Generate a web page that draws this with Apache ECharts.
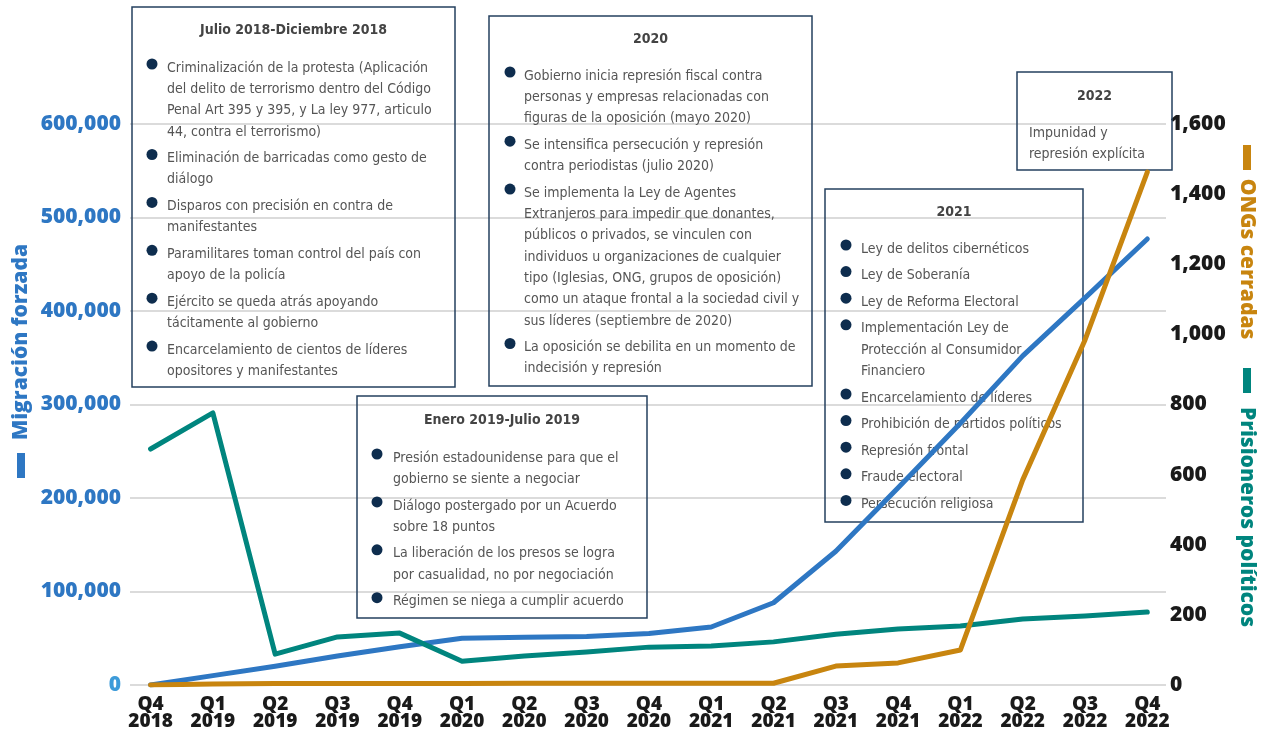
<!DOCTYPE html>
<html>
<head>
<meta charset="UTF-8">
<title>Migración forzada, ONGs cerradas y prisioneros políticos</title>
<script src="https://cdn.jsdelivr.net/npm/echarts@6/dist/echarts.min.js"></script>
<style>
  html, body { margin: 0; padding: 0; background: #fff; }
  #main { width: 1262px; height: 732px; }
</style>
</head>
<body>
<div id="main"></div>
<script type="text/javascript">
// categorias (trimestres)
var quarters = ['Q4\n2018', 'Q1\n2019', 'Q2\n2019', 'Q3\n2019', 'Q4\n2019', 'Q1\n2020', 'Q2\n2020', 'Q3\n2020', 'Q4\n2020',
                'Q1\n2021', 'Q2\n2021', 'Q3\n2021', 'Q4\n2021', 'Q1\n2022', 'Q2\n2022', 'Q3\n2022', 'Q4\n2022'];
// series
var migracion = [0, 10000, 20000, 31000, 41000, 50000, 51000, 52000, 55000, 62000, 88000, 143000, 211000, 280000, 352000, 414000, 477000];
var presos = [673, 776, 88, 137, 148, 68, 83, 94, 108, 111, 123, 145, 160, 168, 188, 197, 208];
var ongs = [0, 3, 4, 4, 4, 4, 5, 5, 5, 5, 5, 54, 63, 100, 585, 984, 1463];

// textos de los recuadros
var box1Title = 'Julio 2018-Diciembre 2018';
var box1Items = [
  'Criminalización de la protesta (Aplicación\ndel delito de terrorismo dentro del Código\nPenal Art 395 y 395, y La ley 977, articulo\n44, contra el terrorismo)',
  'Eliminación de barricadas como gesto de\ndiálogo',
  'Disparos con precisión en contra de\nmanifestantes',
  'Paramilitares toman control del país con\napoyo de la policía',
  'Ejército se queda atrás apoyando\ntácitamente al gobierno',
  'Encarcelamiento de cientos de líderes\nopositores y manifestantes'
];
var box2Title = 'Enero 2019-Julio 2019';
var box2Items = [
  'Presión estadounidense para que el\ngobierno se siente a negociar',
  'Diálogo postergado por un Acuerdo\nsobre 18 puntos',
  'La liberación de los presos se logra\npor casualidad, no por negociación',
  'Régimen se niega a cumplir acuerdo'
];
var box3Title = '2020';
var box3Items = [
  'Gobierno inicia represión fiscal contra\npersonas y empresas relacionadas con\nfiguras de la oposición (mayo 2020)',
  'Se intensifica persecución y represión\ncontra periodistas (julio 2020)',
  'Se implementa la Ley de Agentes\nExtranjeros para impedir que donantes,\npúblicos o privados, se vinculen con\nindividuos u organizaciones de cualquier\ntipo (Iglesias, ONG, grupos de oposición)\ncomo un ataque frontal a la sociedad civil y\nsus líderes (septiembre de 2020)',
  'La oposición se debilita en un momento de\nindecisión y represión'
];
var box4Title = '2021';
var box4Items = [
  'Ley de delitos cibernéticos',
  'Ley de Soberanía',
  'Ley de Reforma Electoral',
  'Implementación Ley de\nProtección al Consumidor\nFinanciero',
  'Encarcelamiento de líderes',
  'Prohibición de partidos políticos',
  'Represión frontal',
  'Fraude electoral',
  'Persecución religiosa'
];
var box5Title = '2022';
var box5Text = 'Impunidad y\nrepresión explícita';

var BLUE = '#2e77c3', TEAL = '#00857e', ORANGE = '#c8850f', NAVY = '#0e2d4e';
var BOXFONT = "'DejaVu Sans Condensed', 'Liberation Sans Narrow', Roboto, sans-serif";
var AXFONT = "'Open Sans', 'Noto Sans', sans-serif";
var LINE_H = 21.3, GAP = 5.3;

function pairs(arr) {
  return arr.map(function (v, i) { return [i, v]; });
}

// recuadro con titulo y vinetas
function makeBox(x, y, w, h, title, titleY, items, firstY, bulletX, textX) {
  var els = [];
  els.push({ type: 'rect', z: 1, shape: { x: x, y: y, width: w, height: h },
             style: { fill: 'none', stroke: '#24405f', lineWidth: 1.5 } });
  els.push({ type: 'text', z: 1, x: x + w / 2, y: titleY,
             style: { text: title, font: 'bold 14px ' + BOXFONT, fill: '#444', align: 'center', verticalAlign: 'middle' } });
  var cy = firstY;
  for (var i = 0; i < items.length; i++) {
    var n = items[i].split('\n').length;
    if (bulletX != null) {
      els.push({ type: 'circle', z: 1, shape: { cx: bulletX, cy: cy - 4, r: 5.5 }, style: { fill: NAVY } });
    }
    els.push({ type: 'text', z: 1, x: textX, y: cy - LINE_H / 2,
               style: { text: items[i], font: '14px ' + BOXFONT, fill: '#555', lineHeight: LINE_H, verticalAlign: 'top' } });
    cy += n * LINE_H + GAP;
  }
  return els;
}

var graphics = [];
graphics = graphics.concat(makeBox(132, 7, 323, 380, box1Title, 30, box1Items, 68, 152, 167));
graphics = graphics.concat(makeBox(357, 396, 290, 222, box2Title, 420, box2Items, 458, 377, 393));
graphics = graphics.concat(makeBox(489, 16, 323, 370, box3Title, 39, box3Items, 76, 510, 524));
graphics = graphics.concat(makeBox(825, 189, 258, 333, box4Title, 212, box4Items, 249, 846, 861));
graphics = graphics.concat(makeBox(1017, 72, 155, 98, box5Title, 96, [box5Text], 133, null, 1029));

// nombres de ejes
graphics.push({ type: 'text', z: 1, x: 21, y: 342, rotation: Math.PI / 2,
  style: { text: 'Migración forzada', font: '800 21px ' + AXFONT, fill: BLUE, align: 'center', verticalAlign: 'middle' } });
graphics.push({ type: 'rect', z: 1, shape: { x: 17, y: 453, width: 8, height: 25 }, style: { fill: BLUE } });
graphics.push({ type: 'rect', z: 1, shape: { x: 1243, y: 145, width: 8, height: 25 }, style: { fill: ORANGE } });
graphics.push({ type: 'text', z: 1, x: 1247, y: 259, rotation: -Math.PI / 2,
  style: { text: 'ONGs cerradas', font: '800 21px ' + AXFONT, fill: ORANGE, align: 'center', verticalAlign: 'middle' } });
graphics.push({ type: 'rect', z: 1, shape: { x: 1243, y: 368, width: 8, height: 25 }, style: { fill: TEAL } });
graphics.push({ type: 'text', z: 1, x: 1247, y: 517, rotation: -Math.PI / 2,
  style: { text: 'Prisioneros políticos', font: '800 21px ' + AXFONT, fill: TEAL, align: 'center', verticalAlign: 'middle' } });

var myChart = echarts.init(document.getElementById('main'));
var idx = quarters.map(function (q, i) { return i; });
var option = {
  animation: false,
  backgroundColor: '#fff',
  grid: { left: 130, right: 96, top: 124, bottom: 47 },
  xAxis: {
    type: 'value',
    min: -0.33,
    max: 16.3,
    axisLine: { show: false },
    axisTick: { show: false },
    splitLine: { show: false },
    axisLabel: {
      customValues: idx,
      formatter: function (v) { return quarters[Math.round(v)]; },
      fontFamily: AXFONT,
      fontWeight: 800,
      fontSize: 19,
      lineHeight: 17,
      color: '#1a1a1a',
      margin: 11
    }
  },
  yAxis: [
    {
      type: 'value',
      min: 0,
      max: 600000,
      interval: 100000,
      axisLine: { show: false },
      axisTick: { show: false },
      splitLine: { lineStyle: { color: '#cfcfcf', width: 1.5 } },
      axisLabel: {
        formatter: function (v) { return v.toLocaleString('en-US'); },
        fontFamily: AXFONT,
        fontWeight: 800,
        fontSize: 21,
        margin: 9,
        color: function (v) { return Number(v) === 0 ? '#3d9bd9' : BLUE; }
      }
    },
    {
      type: 'value',
      min: 0,
      max: 1600,
      interval: 200,
      axisLine: { show: false },
      axisTick: { show: false },
      splitLine: { show: false },
      axisLabel: {
        formatter: function (v) { return v.toLocaleString('en-US'); },
        fontFamily: AXFONT,
        fontWeight: 800,
        fontSize: 21,
        margin: 4,
        color: '#1a1a1a'
      }
    }
  ],
  graphic: graphics,
  series: [
    {
      name: 'Migración forzada',
      type: 'line',
      yAxisIndex: 0,
      data: pairs(migracion),
      symbol: 'none',
      z: 3,
      lineStyle: { color: BLUE, width: 5, cap: 'round', join: 'round' }
    },
    {
      name: 'Prisioneros políticos',
      type: 'line',
      yAxisIndex: 1,
      data: pairs(presos),
      symbol: 'none',
      z: 4,
      lineStyle: { color: TEAL, width: 5, cap: 'round', join: 'round' }
    },
    {
      name: 'ONGs cerradas',
      type: 'line',
      yAxisIndex: 1,
      data: pairs(ongs),
      symbol: 'none',
      z: 5,
      lineStyle: { color: ORANGE, width: 5, cap: 'round', join: 'round' }
    }
  ]
};
myChart.setOption(option);
</script>
</body>
</html>
